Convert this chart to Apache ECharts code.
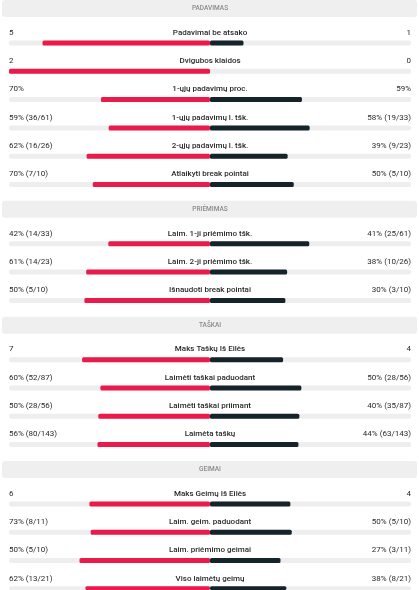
<!DOCTYPE html>
<html>
<head>
<meta charset="utf-8">
<script src="https://cdn.jsdelivr.net/npm/echarts@6/dist/echarts.min.js"></script>
<style>html,body{margin:0;padding:0;background:#fff;}#c{width:419px;height:590px;}</style>
</head>
<body>
<div id="c"></div>
<script>
const sectionNames = ['PADAVIMAS', 'PRIĖMIMAS', 'TAŠKAI', 'GEIMAI'];
const sectionSizes = [6, 3, 4, 4];
const categories = [
  'Padavimai be atsako', 'Dvigubos klaidos', '1-ųjų padavimų proc.', '1-ųjų padavimų l. tšk.',
  '2-ųjų padavimų l. tšk.', 'Atlaikyti break pointai',
  'Laim. 1-ji priėmimo tšk.', 'Laim. 2-ji priėmimo tšk.', 'Išnaudoti break pointai',
  'Maks Taškų Iš Eilės', 'Laimėti taškai paduodant', 'Laimėti taškai priimant', 'Laimėta taškų',
  'Maks Geimų Iš Eilės', 'Laim. geim. paduodant', 'Laim. priėmimo geimai', 'Viso laimėtų geimų'
];
const leftValues = [5, 2, 70, 59, 62, 70, 42, 61, 50, 7, 60, 50, 56, 6, 73, 50, 62];
const rightValues = [1, 0, 59, 58, 39, 50, 41, 38, 30, 4, 50, 40, 44, 4, 50, 27, 38];
const leftLabels = ['5', '2', '70%', '59% (36/61)', '62% (16/26)', '70% (7/10)',
  '42% (14/33)', '61% (14/23)', '50% (5/10)',
  '7', '60% (52/87)', '50% (28/56)', '56% (80/143)',
  '6', '73% (8/11)', '50% (5/10)', '62% (13/21)'];
const rightLabels = ['1', '0', '59%', '58% (19/33)', '39% (9/23)', '50% (5/10)',
  '41% (25/61)', '38% (10/26)', '30% (3/10)',
  '4', '50% (28/56)', '40% (35/87)', '44% (63/143)',
  '4', '50% (5/10)', '27% (3/11)', '38% (8/21)'];

const RED = '#ec1a4b', DARK = '#15232b', TRACK = '#eeeeee';
const FONT = 'Roboto, "Noto Sans", sans-serif';
const L = 9, R = 411, CX = (L + R) / 2;

const grids = [], xAxes = [], yAxes = [], series = [], graphics = [];
let y = 0, idx = 0;
sectionNames.forEach((name, s) => {
  const bandTop = y;
  graphics.push({ type: 'rect', shape: { x: 2, y: bandTop, width: 415, height: 17, r: 3 }, style: { fill: '#efefef' }, silent: true });
  graphics.push({ type: 'text', x: CX, y: bandTop + 8.7, style: { text: name, fill: '#8a8a8a', font: '500 6.5px ' + FONT, align: 'center', verticalAlign: 'middle' }, silent: true });
  let barY = bandTop + 43;
  let lastBar = barY;
  for (let k = 0; k < sectionSizes[s]; k++) {
    const i = idx++;
    const lv = leftValues[i], rv = rightValues[i];
    const tot = lv + rv;
    const lf = tot ? lv / tot : 0, rf = tot ? rv / tot : 0;
    grids.push({ left: L, width: R - L, top: barY - 2.5, height: 5 });
    xAxes.push({ gridIndex: i, type: 'value', min: -1, max: 1, show: false });
    yAxes.push({ gridIndex: i, type: 'category', data: [categories[i]], show: false });
    const base = { type: 'bar', xAxisIndex: i, yAxisIndex: i, barWidth: 5, barGap: '-100%', silent: true, animation: false };
    series.push(Object.assign({}, base, { data: [-1], itemStyle: { color: TRACK, borderRadius: [2, 0, 0, 2] } }));
    series.push(Object.assign({}, base, { data: [1], itemStyle: { color: TRACK, borderRadius: [0, 2, 2, 0] } }));
    series.push(Object.assign({}, base, { data: [-lf], itemStyle: { color: RED, borderRadius: 1.5 } }));
    series.push(Object.assign({}, base, { data: [rf], itemStyle: { color: DARK, borderRadius: 1.5 } }));
    const ty = barY - 10.3;
    graphics.push({ type: 'text', x: L, y: ty, style: { text: leftLabels[i], fill: '#2a2a2a', font: '400 8px ' + FONT, align: 'left', verticalAlign: 'middle' }, silent: true });
    graphics.push({ type: 'text', x: R, y: ty, style: { text: rightLabels[i], fill: '#2a2a2a', font: '400 8px ' + FONT, align: 'right', verticalAlign: 'middle' }, silent: true });
    graphics.push({ type: 'text', x: CX, y: ty, style: { text: categories[i], fill: '#2a2a2a', font: '500 8px ' + FONT, align: 'center', verticalAlign: 'middle' }, silent: true });
    lastBar = barY;
    barY += 28.3;
  }
  y = lastBar + 16.3;
});

const chart = echarts.init(document.getElementById('c'));
chart.setOption({
  animation: false,
  backgroundColor: '#ffffff',
  grid: grids,
  xAxis: xAxes,
  yAxis: yAxes,
  series: series,
  graphic: graphics
});
</script>
</body>
</html>
